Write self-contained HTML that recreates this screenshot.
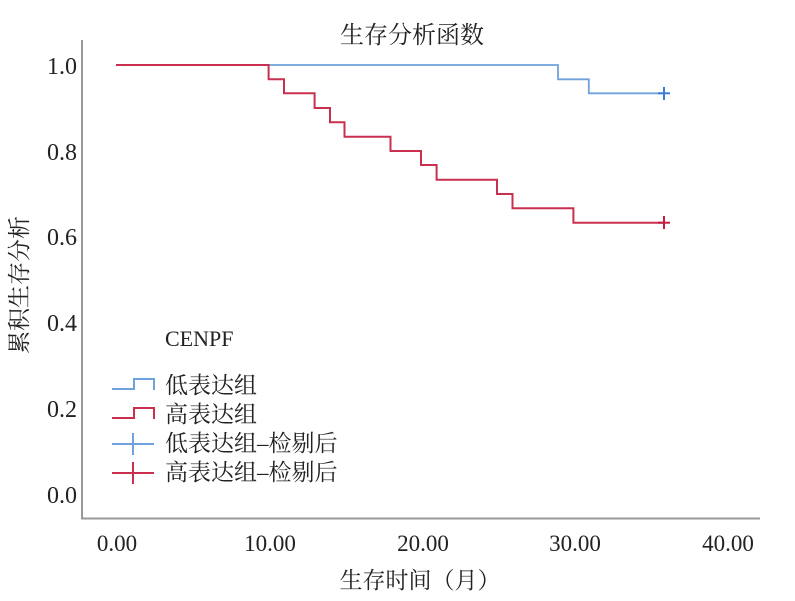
<!DOCTYPE html>
<html><head><meta charset="utf-8"><style>
body{margin:0;background:#fff}
svg text{font-family:"Liberation Serif","Noto Serif CJK SC",serif;fill:#222}
</style></head><body>
<svg width="795" height="596" xmlns="http://www.w3.org/2000/svg">
<rect width="795" height="596" fill="#fff"/>
<text x="412" y="43" font-size="24" text-anchor="middle">生存分析函数</text>
<line x1="82" y1="40" x2="82" y2="519" stroke="#999" stroke-width="2"/>
<line x1="81" y1="518.5" x2="760" y2="518.5" stroke="#999" stroke-width="2"/>
<g font-size="24" text-anchor="end">
<text x="77" y="74">1.0</text><text x="77" y="160">0.8</text><text x="77" y="245">0.6</text>
<text x="77" y="331">0.4</text><text x="77" y="417">0.2</text><text x="77" y="503">0.0</text>
</g>
<g font-size="23" text-anchor="middle">
<text x="117" y="551">0.00</text><text x="270" y="551">10.00</text><text x="423" y="551">20.00</text>
<text x="575" y="551">30.00</text><text x="728" y="551">40.00</text>
</g>
<text x="420" y="588" font-size="23" text-anchor="middle">生存时间（月）</text>
<text transform="translate(27,285) rotate(-90)" font-size="23" text-anchor="middle">累积生存分析</text>
<polyline fill="none" stroke="#6fa2dc" stroke-width="1.8" points="268.6,65 558,65 558,79.3 588.8,79.3 588.8,93.3 665,93.3"/>
<polyline fill="none" stroke="#c9304f" stroke-width="2" points="116,65 268.6,65 268.6,79.3 284,79.3 284,93.3 314.6,93.3 314.6,108 330,108 330,122.3 344.5,122.3 344.5,136.7 390.5,136.7 390.5,151 421,151 421,165 436.6,165 436.6,179.7 497,179.7 497,194 512.5,194 512.5,208.3 573.4,208.3 573.4,222.7 665,222.7"/>
<g stroke="#3b7fd0" stroke-width="2"><line x1="658" y1="93.3" x2="670" y2="93.3"/><line x1="664" y1="87" x2="664" y2="100"/></g>
<g stroke="#c41e3f" stroke-width="2"><line x1="658" y1="222.7" x2="670" y2="222.7"/><line x1="664" y1="216" x2="664" y2="229"/></g>
<text x="165" y="346" font-size="22">CENPF</text>
<g font-size="23">
<text x="165" y="393">低表达组</text><text x="165" y="422">高表达组</text>
<text x="165" y="451">低表达组–检剔后</text><text x="165" y="480">高表达组–检剔后</text>
</g>
<polyline fill="none" stroke="#6fa2dc" stroke-width="2" points="112,389 134,389 134,379 154,379 154,390"/>
<polyline fill="none" stroke="#c9304f" stroke-width="2" points="112,418 134,418 134,408 154,408 154,419"/>
<g stroke="#6fa2dc" stroke-width="2"><line x1="112" y1="444" x2="154" y2="444"/><line x1="133" y1="433" x2="133" y2="455"/></g>
<g stroke="#c9304f" stroke-width="2"><line x1="112" y1="473" x2="154" y2="473"/><line x1="133" y1="462" x2="133" y2="484"/></g>
</svg>
</body></html>
